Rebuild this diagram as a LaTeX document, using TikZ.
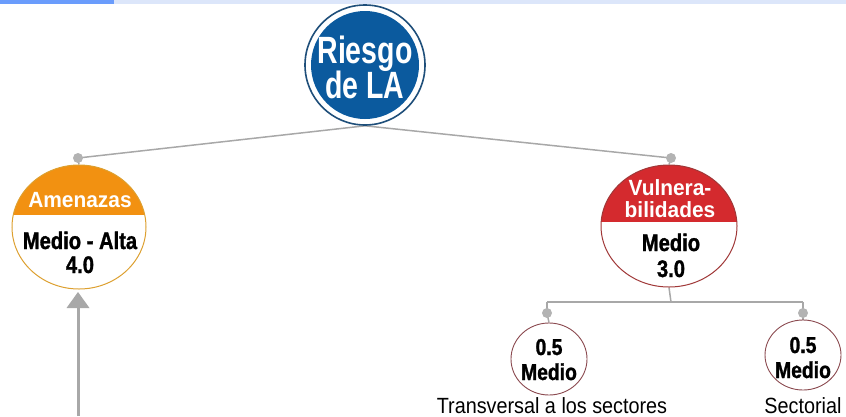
\documentclass[tikz,border=0pt]{standalone}
\usepackage{fontspec}
\setmainfont{Liberation Sans}
\newfontfamily\condB[FakeStretch=0.75]{Liberation Sans}
\newfontfamily\condH[FakeStretch=0.84,FakeBold=1.2]{Liberation Sans}
\newfontfamily\condR[FakeStretch=0.9]{Liberation Sans}
\newfontfamily\headF[FakeStretch=0.95]{Liberation Sans}
\usetikzlibrary{shapes.geometric,backgrounds}
\definecolor{barlight}{HTML}{DCE6FA}
\definecolor{bardark}{HTML}{6A9CFC}
\definecolor{riesgoblue}{HTML}{0B5A9E}
\definecolor{riesgoring}{HTML}{1F4F7A}
\definecolor{amenorange}{HTML}{F29111}
\definecolor{amenborder}{HTML}{DDA030}
\definecolor{vulnred}{HTML}{D42A2E}
\definecolor{vulnborder}{HTML}{A03838}
\definecolor{smallborder}{HTML}{8B4A50}
\definecolor{linegray}{HTML}{A8A8A8}
\definecolor{dotgray}{HTML}{B3B3B3}
\tikzset{
  ell/.style={ellipse, inner sep=0pt, fill=white},
  dotnode/.style={circle, fill=dotgray, inner sep=0pt, minimum size=10pt},
  conn/.style={draw=linegray, line width=1.5pt},
  heavytxt/.style={font=\condH\bfseries\fontsize{24}{24}\selectfont, anchor=base, inner sep=0pt},
  smalltxt/.style={font=\condH\bfseries\fontsize{23}{23}\selectfont, anchor=base, inner sep=0pt},
  headtxt/.style={font=\headF\bfseries\fontsize{22}{22}\selectfont, text=white, anchor=base, inner sep=0pt},
  riesgotxt/.style={font=\condB\bfseries\fontsize{38}{38}\selectfont, text=white, anchor=base, inner sep=0pt},
  captxt/.style={font=\condR\fontsize{22}{22}\selectfont, anchor=base, inner sep=0pt},
}
\begin{document}
\begin{tikzpicture}[x=1pt,y=-1pt]
\useasboundingbox (0,0) rectangle (846,416);
% top bar
\fill[barlight] (0,0) rectangle (846,4);
\fill[bardark] (0,0) rectangle (114,4);

% main node
\node[circle, draw=riesgoring, line width=1.6pt, fill=white, minimum size=120pt, inner sep=0pt] (riesgo) at (365,65) {};
\node[circle, fill=riesgoblue, minimum size=108pt, inner sep=0pt] (riesgofill) at (riesgo.center) {};
\node[riesgotxt] (t1) at (365,63) {Riesgo};
\node[riesgotxt] (t2) at (365,98) {de LA};

% dots
\node[dotnode] (dA) at (78,158) {};
\node[dotnode] (dV) at (671,158) {};
\node[dotnode] (dT) at (547,313) {};
\node[dotnode] (dS) at (803,313) {};

% Amenazas
\node[ell, draw=amenborder, line width=1pt, minimum width=134pt, minimum height=124pt,
  path picture={\fill[amenorange] (path picture bounding box.north west) rectangle ([yshift=12pt]path picture bounding box.east);}] (amen) at (79,227) {};
\node[headtxt] (a1) at (80,207) {Amenazas};
\node[heavytxt] (a2) at (80,249) {Medio - Alta};
\node[heavytxt] (a3) at (80,273) {4.0};

% Vulnerabilidades
\node[ell, draw=vulnborder, line width=1pt, minimum width=136pt, minimum height=122pt,
  path picture={\fill[vulnred] (path picture bounding box.north west) rectangle ([yshift=4pt]path picture bounding box.east);}] (vuln) at (669,226) {};
\node[headtxt] (v1) at (670,195) {Vulnera-};
\node[headtxt] (v2) at (670,217) {bilidades};
\node[heavytxt] (v3) at (671,251) {Medio};
\node[heavytxt] (v4) at (671,277) {3.0};

% small circles
\node[ell, draw=smallborder, line width=0.9pt, minimum width=76pt, minimum height=72pt] (trans) at (549,359) {};
\node[smalltxt] (s1) at (549,355) {0.5};
\node[smalltxt] (s2) at (549,380) {Medio};
\node[ell, draw=smallborder, line width=0.9pt, minimum width=76pt, minimum height=70pt] (sect) at (803,355) {};
\node[smalltxt] (s3) at (803,353) {0.5};
\node[smalltxt] (s4) at (803,378) {Medio};

\node[captxt] (c1) at (552,413) {Transversal a los sectores};
\node[captxt] (c2) at (803,413) {Sectorial};

% arrow
\coordinate (arrowfoot) at (78,416);
\coordinate (arrowbase) at (78,308);
\coordinate (arrowtip) at (78,292);

\begin{scope}[on background layer]
  \draw[conn] (riesgo.south) -- (dA.center);
  \draw[conn] (riesgo.south) -- (dV.center);
  \draw[conn] (dA.center) -- (amen.north);
  \draw[conn] (dV.center) -- (vuln.north);
  \coordinate (hub) at (671,302);
  \draw[conn] (vuln.south) -- (hub);
  \draw[conn] (dT.center |- hub) -- (dS.center |- hub);
  \draw[conn] (dT.center |- hub) -- (dT.center);
  \draw[conn] (dS.center |- hub) -- (dS.center);
  \draw[conn] (dT.center) -- (trans.north);
  \draw[conn] (dS.center) -- (sect.north);
\end{scope}
\draw[draw=linegray, line width=3pt] (arrowfoot) -- (arrowbase);
\fill[linegray] (arrowtip) -- ([xshift=-11.5pt]arrowbase) -- ([xshift=11.5pt]arrowbase) -- cycle;
\end{tikzpicture}
\end{document}
